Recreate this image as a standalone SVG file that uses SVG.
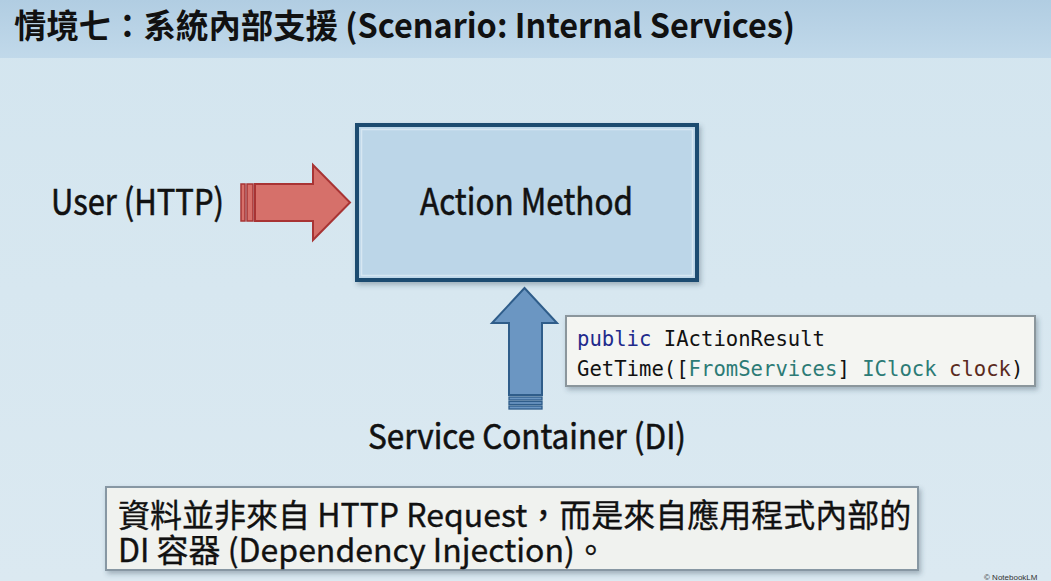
<svg xmlns="http://www.w3.org/2000/svg" width="1051" height="581" viewBox="0 0 1051 581">
  <defs>
    <linearGradient id="bg" x1="0" y1="0" x2="0" y2="1">
      <stop offset="0" stop-color="#d3e5ef"/>
      <stop offset="1" stop-color="#dbe9f1"/>
    </linearGradient>
    <linearGradient id="hdr" x1="0" y1="0" x2="0" y2="1">
      <stop offset="0" stop-color="#b1cde2"/>
      <stop offset="1" stop-color="#c1d9ea"/>
    </linearGradient>
    <filter id="sh" x="-5%" y="-10%" width="110%" height="125%">
      <feDropShadow dx="2" dy="3" stdDeviation="2.5" flood-color="#30485a" flood-opacity="0.35"/>
    </filter>
  </defs>
  <style>
    .t { font-family: "Noto Sans CJK TC", "Noto Sans", "Liberation Sans", sans-serif; fill: #111; font-weight: 400; stroke: #111; stroke-width: 0.6px; }
    .title { font-weight: 700; stroke: none; }
    .n { stroke-width: 0.35px; }
    .code { font-family: "DejaVu Sans Mono", "Liberation Mono", monospace; font-size: 20.6px; fill: #111; }
    .kw { fill: #1e2a8c; }
    .ty { fill: #2c7b76; }
    .var { fill: #5a2a20; }
  </style>
  <rect x="0" y="0" width="1051" height="581" fill="url(#bg)"/>
  <rect x="0" y="0" width="1051" height="58" fill="url(#hdr)"/>
  <text class="t title" x="14" y="38" font-size="33" textLength="781" lengthAdjust="spacingAndGlyphs">情境七：系統內部支援 (Scenario: Internal Services)</text>

  <g id="connectors">
    <g id="user-arrow">
      <rect x="241" y="184" width="4" height="37" fill="#d6706a" stroke="#a83434" stroke-width="1.5"/>
      <rect x="247" y="184" width="6" height="37" fill="#d6706a" stroke="#a83434" stroke-width="1.5"/>
      <path d="M255,184 H313 V165 L350,202.5 L313,240 V221 H255 Z" fill="#d6706a" stroke="#a83434" stroke-width="2" stroke-linejoin="miter"/>
    </g>
    <g id="di-arrow">
      <path d="M524.5,288 L557,323 H542 V395 H509 V323 H492 Z" fill="#6b96c2" stroke="#2f5d8a" stroke-width="2"/>
      <rect x="509" y="397" width="33" height="3" fill="#6b96c2" stroke="#2f5d8a" stroke-width="1.3"/>
      <rect x="509" y="401.5" width="33" height="3" fill="#6b96c2" stroke="#2f5d8a" stroke-width="1.3"/>
      <rect x="509" y="406" width="33" height="3" fill="#6b96c2" stroke="#2f5d8a" stroke-width="1.3"/>
    </g>
  </g>

  <g id="user">
    <text class="t" x="51" y="215" font-size="36" textLength="173" lengthAdjust="spacingAndGlyphs">User (HTTP)</text>
  </g>

  <g id="action-method">
    <rect x="357" y="125" width="340" height="155" fill="#bcd6e8" stroke="#1f4b70" stroke-width="4" filter="url(#sh)"/>
    <rect x="361.5" y="129.5" width="331" height="146" fill="none" stroke="#d6e7f2" stroke-width="1.5"/>
    <text class="t" x="420" y="215" font-size="37" textLength="213" lengthAdjust="spacingAndGlyphs">Action Method</text>
  </g>

  <g id="service-container">
    <text class="t" x="368" y="449" font-size="34" textLength="318" lengthAdjust="spacingAndGlyphs">Service Container (DI)</text>
  </g>

  <g id="code-note">
    <rect x="566" y="316" width="469" height="70" fill="#f4f5f2" stroke="#8b969c" stroke-width="2" filter="url(#sh)"/>
    <text class="code" x="577" y="346"><tspan class="kw">public</tspan> IActionResult</text>
    <text class="code" x="577" y="376">GetTime([<tspan class="ty">FromServices</tspan>] <tspan class="ty">IClock</tspan> <tspan class="var">clock</tspan>)</text>
  </g>

  <g id="note">
    <rect x="106" y="487" width="812" height="83" fill="#f0f2ef" stroke="#8797a3" stroke-width="2" filter="url(#sh)"/>
    <text class="t n" font-size="32"><tspan x="118" y="527">資料並非來自 HTTP Request，而是來自應用程式內部的</tspan><tspan x="118" y="562">DI 容器 (Dependency Injection)。</tspan></text>
  </g>

  <text x="984" y="580" font-family="Liberation Sans, sans-serif" font-size="8" fill="#333">© NotebookLM</text>
</svg>
